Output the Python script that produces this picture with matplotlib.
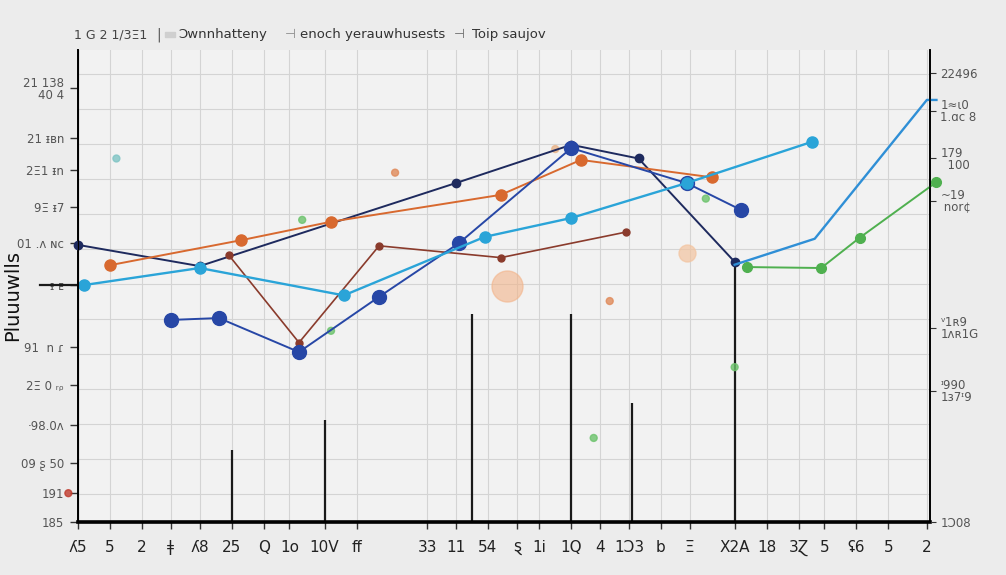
import numpy as np
import matplotlib.pyplot as plt

# x tick labels (garbled, as in the picture)
xtick_pos = [0, 1, 2, 2.9, 3.8, 4.8, 5.8, 6.6, 7.7, 8.7, 10.9, 11.8, 12.8, 13.7, 14.4, 15.4,
             16.3, 17.2, 18.2, 19.1, 20.5, 21.5, 22.5, 23.3, 24.3, 25.3, 26.5]
xtick_lab = ["ʎ5", "5", "2", "ǂ", "ʎ8", "25", "Q", "1o", "10V", "ff", "33", "11", "54", "ȿ",
             "1i", "1Q", "4", "1Ͻ3", "b", "Ξ", "X2A", "18", "3Ɀ", "5", "ʢ6", "5", "2"]

ytick_pos = [91.9, 81.4, 74.6, 66.7, 59.1, 50.2, 37.1, 29.0, 20.6, 12.5, 6.1, 0]
ytick_lab = ["21 138\n40 4", "21 ᵻʙn", "2Ξ1 ᵻn", "9Ξ ᵻ7", "01 .ᴧ ɴc", "ᵻ ᴇ", "91  n ɾ",
             "2Ξ 0 ᵣᵨ", "·98.0ᴧ", "09 ʂ 50", "191", "185"]

ytick2_pos = [95.1, 87.1, 77.1, 68.0, 41.1, 27.8, 0]
ytick2_lab = ["22496", "1≈ɩ0\n1.ɑc 8", "179\n  100", "~19\n nor¢", "ᵛ1ʀ9\n1ʌʀ1G",
              "ᶦ990\n1ɜ7ᶦ9", "1Ͻ08"]

# series
navy_x = [0, 3.8, 11.8, 15.4, 17.5, 20.5]
navy_y = [58.7, 54.2, 71.8, 79.9, 77.0, 55.1]

royal_x = [2.9, 4.4, 6.9, 9.4, 11.9, 15.4, 19.0, 20.7]
royal_y = [42.8, 43.2, 36.0, 47.7, 59.1, 79.2, 71.8, 66.1]

sky_x = [0.2, 3.8, 8.3, 12.7, 15.4, 19.0, 22.9]
sky_y = [50.2, 53.8, 48.0, 60.4, 64.4, 71.8, 80.5]

cyan_x = [20.5, 23.0, 26.5, 26.8]
cyan_y = [54.5, 60.0, 89.4, 89.4]

orange_x = [1.0, 5.1, 7.9, 13.2, 15.7, 19.8]
orange_y = [54.4, 59.7, 63.6, 69.3, 76.7, 73.0]

brown_x = [4.7, 6.9, 9.4, 13.2, 17.1]
brown_y = [56.6, 38.0, 58.5, 56.0, 61.4]

green_x = [20.9, 23.2, 24.4, 26.8]
green_y = [54.0, 53.8, 60.2, 72.0]

stem_x = [4.8, 7.7, 12.3, 15.4, 17.3, 20.5]
stem_top = [15.3, 21.6, 44.1, 44.1, 25.2, 54.9]

dots_x = [7.0, 7.9, 20.5, 16.1, 23.2, 9.9, 16.6, 14.9, 19.6, 1.2, -0.3]
dots_y = [64.0, 40.5, 32.8, 17.8, 53.8, 74.0, 46.8, 79.0, 68.5, 77.0, 6.1]
dots_c = ["#6cc36c", "#6cc36c", "#6cc36c", "#6cc36c", "#6cc36c", "#e08a5a", "#e08a5a",
          "#e8b48a", "#6cc36c", "#7fc4c4", "#c0392b"]

fig = plt.figure(figsize=(10.06, 5.75), dpi=100)
fig.patch.set_facecolor("#ececec")
ax = fig.add_axes([0.0775, 0.0922, 0.847, 0.821])
ax.set_facecolor("#f2f2f2")
ax.set_xlim(0, 26.6)
ax.set_ylim(0, 100)

# grid
ax.set_xticks(xtick_pos)
ax.set_xticklabels(xtick_lab, fontsize=11, color="#222")
ax.set_yticks(ytick_pos)
ax.set_yticklabels(ytick_lab, fontsize=8.5, color="#555", linespacing=0.9)
ax.set_yticks(np.arange(6, 100, 7.4), minor=True)
ax.grid(axis="x", color="#d4d4d4", lw=0.8)
ax.grid(axis="y", which="minor", color="#d4d4d4", lw=0.8)
ax.tick_params(axis="y", which="minor", length=0)
ax.tick_params(axis="x", length=5, width=1, color="#333", pad=8)
ax.tick_params(axis="y", length=6, width=1, color="#333", pad=4)
ax.spines["top"].set_visible(False)
ax.spines["left"].set_linewidth(1.4)
ax.spines["bottom"].set_linewidth(2.6)
ax.spines["right"].set_linewidth(1.2)

ax2 = ax.twinx()
ax2.set_ylim(0, 100)
ax2.set_yticks(ytick2_pos)
ax2.set_yticklabels(ytick2_lab, fontsize=8.5, color="#555", linespacing=0.9)
ax2.tick_params(axis="y", length=4, color="#333")
ax2.spines["top"].set_visible(False)
ax2.spines["right"].set_linewidth(1.2)

# stems
ax.vlines(stem_x, 0, stem_top, color="#1a1a1a", lw=1.6)
ax.plot([-1.2, 0], [50.2, 50.2], color="#1a1a1a", lw=1.6, clip_on=False)

# faint blobs and stray dots
ax.scatter([13.4], [50], s=500, color="#f2b48a", alpha=0.6, zorder=2)
ax.scatter([19.0], [57], s=150, color="#f2c4a0", alpha=0.7, zorder=2)
ax.scatter(dots_x, dots_y, s=25, c=dots_c, alpha=0.8, zorder=3, clip_on=False)

lines = [
    (navy_x, navy_y, "#1e2a5e", 1.4, 6),
    (brown_x, brown_y, "#8a3b2c", 1.2, 5),
    (orange_x, orange_y, "#d8692f", 1.4, 8),
    (royal_x, royal_y, "#2747a6", 1.4, 10),
    (sky_x, sky_y, "#2aa4d8", 1.7, 8),
    (cyan_x, cyan_y, "#2f8fd6", 1.7, 0),
    (green_x, green_y, "#4fb04f", 1.4, 7),
]
for x, y, c, w, ms in lines:
    ax.plot(x, y, color=c, lw=w, marker="o", ms=ms, mec=c, mfc=c, zorder=4,
            clip_on=False)

ax.set_ylabel("Pluuuwlls", fontsize=14, color="#111")
ax.yaxis.set_label_coords(-0.065, 0.48)

# legend strip on top
fig.text(0.074, 0.94, "1 G 2 1/3Ξ1", fontsize=9, color="#444", va="center")
fig.text(0.155, 0.94, "|", fontsize=10, color="#555", va="center")
fig.patches.append(plt.Rectangle((0.164, 0.935), 0.01, 0.01, transform=fig.transFigure,
                                 color="#cfcfcf"))
fig.text(0.177, 0.94, "Ͻwnnhatteny", fontsize=9.5, color="#333", va="center")
fig.text(0.283, 0.94, "⊣", fontsize=9, color="#888", va="center")
fig.text(0.298, 0.94, "enoch yerauwhusests", fontsize=9.5, color="#333", va="center")
fig.text(0.451, 0.94, "⊣", fontsize=9, color="#666", va="center")
fig.text(0.469, 0.94, "Toip saujov", fontsize=9.5, color="#333", va="center")

fig.savefig("out.png", dpi=100, facecolor=fig.get_facecolor())
